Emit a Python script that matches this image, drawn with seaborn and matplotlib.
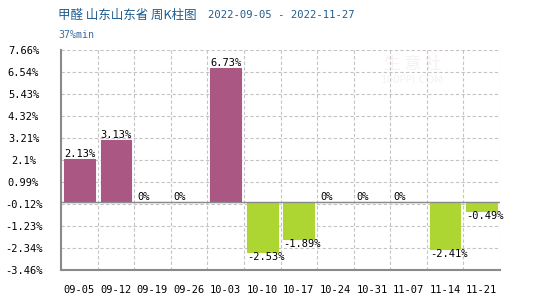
import matplotlib
matplotlib.use("Agg")
import matplotlib.pyplot as plt
import seaborn as sns
import pandas as pd
import numpy as np

categories = ["09-05", "09-12", "09-19", "09-26", "10-03", "10-10",
              "10-17", "10-24", "10-31", "11-07", "11-14", "11-21"]
values = [2.13, 3.13, 0, 0, 6.73, -2.53, -1.89, 0, 0, 0, -2.41, -0.49]
ytick_values = [7.66, 6.54, 5.43, 4.32, 3.21, 2.1, 0.99, -0.12, -1.23, -2.34, -3.46]
ytick_labels = ["7.66%", "6.54%", "5.43%", "4.32%", "3.21%", "2.1%", "0.99%",
                "-0.12%", "-1.23%", "-2.34%", "-3.46%"]
title_cn = "甲醛 山东山东省 周K柱图"
title_dates = "2022-09-05 - 2022-11-27"
subtitle = "37%min"

POS = "#aa5783"
NEG = "#add632"

sns.set_theme(style="white")
plt.rcParams["font.family"] = ["DejaVu Sans Mono", "Noto Sans CJK SC"]

df = pd.DataFrame({"week": categories, "value": values})
palette = {c: (POS if v >= 0 else NEG) for c, v in zip(categories, values)}

fig = plt.figure(figsize=(5.5, 3.0), dpi=100)
ax = fig.add_axes([61 / 550, 30 / 300, 439 / 550, 220 / 300])

sns.barplot(data=df, x="week", y="value", hue="week", palette=palette,
            legend=False, width=0.84, ax=ax, saturation=1, linewidth=0.8)
for p, c in zip(ax.patches, categories):
    p.set_edgecolor(palette[c])

ax.set_xlim(-0.5, len(categories) - 0.5)
ax.set_ylim(min(ytick_values), max(ytick_values))
ax.set_yticks(ytick_values)
ax.set_yticklabels(ytick_labels)
ax.set_xticks(range(len(categories)))
ax.set_xticklabels(categories)
ax.set_xticks(np.arange(-0.5, len(categories), 1.0), minor=True)
ax.set_xlabel("")
ax.set_ylabel("")

ax.grid(False)
ax.grid(axis="y", which="major", color="#c4c4c4", linestyle=(0, (3, 2)), linewidth=0.8)
ax.grid(axis="x", which="minor", color="#c4c4c4", linestyle=(0, (3, 2)), linewidth=0.8)
ax.set_axisbelow(True)

for s in ["top", "right"]:
    ax.spines[s].set_visible(False)
for s in ["left", "bottom"]:
    ax.spines[s].set_color("#8a8a8a")
    ax.spines[s].set_linewidth(1.5)

ax.tick_params(axis="both", which="both", length=0)
ax.tick_params(axis="y", pad=27, labelsize=7.5, labelcolor="black")
ax.tick_params(axis="x", pad=11, labelsize=7.5, labelcolor="black")
for t in ax.get_yticklabels():
    t.set_horizontalalignment("center")

ax.axhline(0, color="#8a8a8a", linewidth=1, zorder=1.5)

for p, v in zip(ax.patches, values):
    lab = f"{v:g}%"
    if v >= 0:
        ax.text(p.get_x(), v, lab, ha="left", va="bottom", fontsize=7.5, color="black")
    else:
        ax.text(p.get_x(), v, lab, ha="left", va="top", fontsize=7.5, color="black")

# faint watermark
ax.text(0.80, 0.935, "生 意 社", transform=ax.transAxes, ha="center", va="center",
        fontsize=12, color="#f9f0f0", family=["Noto Sans CJK SC"], zorder=0.5)
ax.text(0.80, 0.865, "100PPI.COM", transform=ax.transAxes, ha="center", va="center",
        fontsize=7.5, color="#f3f3f3", family=["DejaVu Sans"], zorder=0.5)

fig.text(58 / 550, 1 - 15 / 300, title_cn, ha="left", va="center", fontsize=9,
         color="#1f5c8f", family=["Noto Sans CJK SC", "DejaVu Sans"])
fig.text(208 / 550, 1 - 15 / 300, title_dates, ha="left", va="center", fontsize=7.6,
         color="#1f5c8f", family=["DejaVu Sans Mono"])
fig.text(58 / 550, 1 - 35 / 300, subtitle, ha="left", va="center", fontsize=7.2,
         color="#3a6f9f", family=["DejaVu Sans Mono"])

fig.savefig("out.png", dpi=100)
